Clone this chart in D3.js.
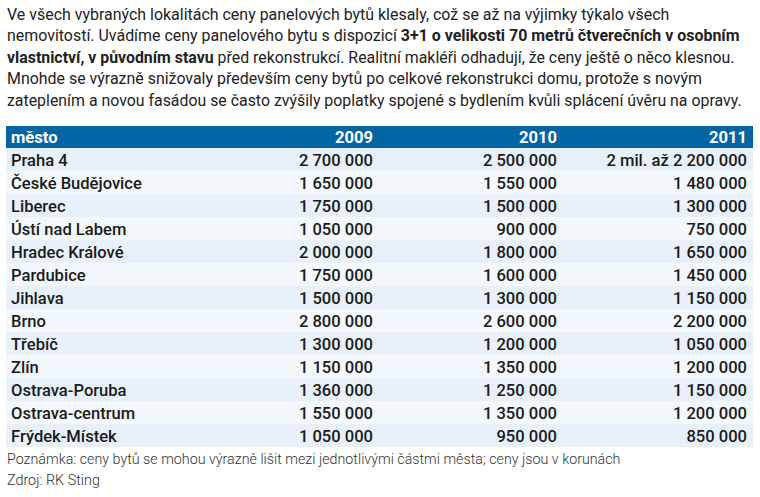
<!DOCTYPE html>
<html><head><meta charset="utf-8">
<script src="https://cdn.jsdelivr.net/npm/d3@7"></script>
<style>html,body{margin:0;padding:0;background:#fff;}svg{display:block;}</style>
</head><body>
<script>
// ---- data ----
const introLines = [
  [["Ve všech vybraných lokalitách ceny panelových bytů klesaly, což se až na výjimky týkalo všech", false]],
  [["nemovitostí. Uvádíme ceny panelového bytu s dispozicí ", false], ["3+1 o velikosti 70 metrů čtverečních v osobním", true]],
  [["vlastnictví, v původním stavu", true], [" před rekonstrukcí. Realitní makléři odhadují, že ceny ještě o něco klesnou.", false]],
  [["Mnohde se výrazně snižovaly především ceny bytů po celkové rekonstrukci domu, protože s novým", false]],
  [["zateplením a novou fasádou se často zvýšily poplatky spojené s bydlením kvůli splácení úvěru na opravy.", false]]
];
const introWidths = [663, 733, 728, 695, 735];
const columns = ["město", "2009", "2010", "2011"];
const cities = ["Praha 4","České Budějovice","Liberec","Ústí nad Labem","Hradec Králové","Pardubice","Jihlava","Brno","Třebíč","Zlín","Ostrava-Poruba","Ostrava-centrum","Frýdek-Místek"];
const values2009 = [2700000,1650000,1750000,1050000,2000000,1750000,1500000,2800000,1300000,1150000,1360000,1550000,1050000];
const values2010 = [2500000,1550000,1500000,900000,1800000,1600000,1300000,2600000,1200000,1350000,1250000,1350000,950000];
const values2011 = [2200000,1480000,1300000,750000,1650000,1450000,1150000,2200000,1050000,1200000,1150000,1200000,850000];
const prefix2011 = ["2 mil. až ","","","","","","","","","","","",""];
const footNotes = ["Poznámka: ceny bytů se mohou výrazně lišit mezi jednotlivými částmi města; ceny jsou v korunách", "Zdroj: RK Sting"];
const footWidths = [614, 93];

// ---- drawing ----
const W = 760, H = 497;
const FONT = "Roboto, 'Open Sans', sans-serif";
const svg = d3.select("body").append("svg").attr("width", W).attr("height", H);
svg.append("rect").attr("width", W).attr("height", H).attr("fill", "#fff");

function fitX(sel, x, target) {
  const n = sel.node();
  const w = n.getComputedTextLength();
  if (w > 0 && target) {
    const k = target / w;
    sel.attr("transform", `translate(${x},0) scale(${k},1) translate(${-x},0)`);
  }
}

// intro paragraph
const introY = d3.scalePoint().domain(d3.range(introLines.length)).range([20, 106]);
introLines.forEach((line, i) => {
  const t = svg.append("text").attr("x", 7).attr("y", introY(i))
    .attr("font-family", FONT).attr("font-size", 16.5).attr("fill", "#222");
  line.forEach(([s, b]) => t.append("tspan").text(s).attr("font-weight", b ? 700 : 400));
  fitX(t, 7, introWidths[i]);
});

// table
const left = 6, right = 753;
const y = d3.scaleBand().domain(cities).range([148, 447]);
const colX = d3.scaleOrdinal().domain(columns).range([11, 373, 557, 747]);
const fmt = d3.formatLocale({decimal: ",", thousands: "\u00a0", grouping: [3], currency: ["", " Kč"]}).format(",d");

svg.append("rect").attr("x", left).attr("y", 126).attr("width", right - left).attr("height", 22).attr("fill", "#0366a2");
svg.selectAll("rect.row").data(cities).join("rect").attr("class", "row")
  .attr("x", left).attr("y", d => y(d)).attr("width", right - left).attr("height", y.bandwidth())
  .attr("fill", (d, i) => i % 2 === 0 ? "#e8f1f9" : "#f3f8fc");

// compute condensation factor for table text
const probe = svg.append("text").attr("font-family", FONT).attr("font-size", 17).attr("font-weight", 500).text("České Budějovice");
const kT = 131 / probe.node().getComputedTextLength();
probe.remove();

function cell(txt, x, yy, anchor, color, weight) {
  svg.append("text").attr("x", x).attr("y", yy).attr("text-anchor", anchor)
    .attr("font-family", FONT).attr("font-size", 17).attr("font-weight", weight).attr("fill", color)
    .attr("transform", `translate(${x},0) scale(${kT},1) translate(${-x},0)`)
    .text(txt);
}
columns.forEach((c, j) => cell(c, colX(c), 143, j === 0 ? "start" : "end", "#fff", 700));
cities.forEach((c, i) => {
  const by = y(c) + 18.5;
  cell(c, colX("město"), by, "start", "#1a1a1a", 500);
  cell(fmt(values2009[i]), colX("2009"), by, "end", "#1a1a1a", 500);
  cell(fmt(values2010[i]), colX("2010"), by, "end", "#1a1a1a", 500);
  cell(prefix2011[i] + fmt(values2011[i]), colX("2011"), by, "end", "#1a1a1a", 500);
});

// footnotes
const footY = d3.scalePoint().domain(d3.range(footNotes.length)).range([464, 485]);
footNotes.forEach((s, i) => {
  const t = svg.append("text").attr("x", 7).attr("y", footY(i))
    .attr("font-family", FONT).attr("font-size", 14.5).attr("font-weight", 300).attr("fill", "#333").text(s);
  fitX(t, 7, footWidths[i]);
});
</script>
</body></html>
